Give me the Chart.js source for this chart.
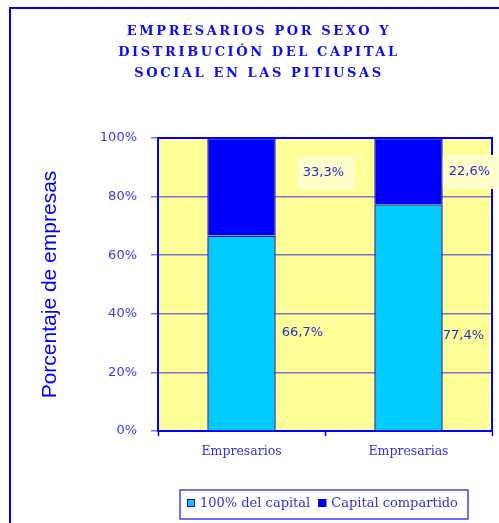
<!DOCTYPE html>
<html>
<head>
<meta charset="utf-8">
<script src="https://cdn.jsdelivr.net/npm/chart.js@4.4.0/dist/chart.umd.min.js"></script>
<style>
  html, body { margin: 0; padding: 0; background: #fff; }
  canvas { display: block; }
</style>
</head>
<body>
<canvas id="chart" width="499" height="523"></canvas>
<script>
/* =======================
   Data
======================= */
const categories = ["Empresarios", "Empresarias"];
const fullCapital = [66.7, 77.4];      // 100% del capital
const sharedCapital = [33.3, 22.6];    // Capital compartido
const seriesNames = ["100% del capital", "Capital compartido"];
const titleLines = ["EMPRESARIOS POR SEXO Y", "DISTRIBUCIÓN DEL CAPITAL", "SOCIAL EN LAS PITIUSAS"];
const yAxisTitle = "Porcentaje de empresas";

const fmt = v => v.toFixed(1).replace(".", ",") + "%";

/* =======================
   Label placement (style only)
   [dataset][bar] -> text offset from bar right edge, anchor value, box
======================= */
const labelStyle = [
  [{ dx: 6, at: 33.7, box: null }, { dx: 0, at: 32.4, box: null }],
  [{ dx: 27, at: 88.1, box: { dx: 22, w: 57 } }, { dx: 6, at: 88.4, box: { dx: 0, w: 56 } }]
];

/* =======================
   Decoration plugin
======================= */
const decor = {
  id: "decor",
  beforeDraw(chart) {
    const { ctx, chartArea: a } = chart;
    ctx.save();
    ctx.fillStyle = "#ffffff";
    ctx.fillRect(0, 0, chart.width, chart.height);
    ctx.fillStyle = "#ffff99";
    ctx.fillRect(a.left, a.top, a.right - a.left, a.bottom - a.top);

    // outer frame (runs off the right and bottom)
    ctx.strokeStyle = "#0000ff";
    ctx.lineWidth = 2;
    ctx.strokeRect(10, 8, 700, 700);

    // title
    ctx.fillStyle = "#0a0aff";
    ctx.font = "bold 13px 'DejaVu Serif'";
    ctx.letterSpacing = "2.6px";
    ctx.textAlign = "center";
    ctx.textBaseline = "middle";
    titleLines.forEach((t, i) => ctx.fillText(t, 259, 32 + i * 21));
    ctx.restore();
  },
  afterDatasetsDraw(chart) {
    const { ctx, chartArea: a } = chart;
    const y = chart.scales.y;
    ctx.save();
    // top and right of the plot frame
    ctx.strokeStyle = "#0000ff";
    ctx.lineWidth = 2;
    ctx.beginPath();
    ctx.moveTo(a.left, a.top);
    ctx.lineTo(a.right, a.top);
    ctx.lineTo(a.right, a.bottom);
    ctx.stroke();

    // value labels
    ctx.font = "13px 'DejaVu Sans'";
    ctx.textBaseline = "middle";
    ctx.textAlign = "left";
    chart.data.datasets.forEach((ds, di) => {
      chart.getDatasetMeta(di).data.forEach((bar, i) => {
        const st = labelStyle[di][i];
        const right = bar.x + bar.width / 2;
        const ly = y.getPixelForValue(st.at);
        if (st.box) {
          ctx.fillStyle = "#ffffcc";
          ctx.fillRect(right + st.box.dx, ly - 17, st.box.w, 34);
        }
        ctx.fillStyle = "#2a2acc";
        ctx.fillText(fmt(ds.data[i]), right + st.dx, ly);
      });
    });
    ctx.restore();
  },
  afterDraw(chart) {
    const { ctx } = chart;
    ctx.save();
    // legend
    ctx.fillStyle = "#ffffff";
    ctx.fillRect(180, 490, 288, 29);
    ctx.strokeStyle = "#4444ee";
    ctx.lineWidth = 1.5;
    ctx.strokeRect(180, 490, 288, 29);
    ctx.font = "13px 'DejaVu Serif'";
    ctx.textBaseline = "middle";
    ctx.textAlign = "left";
    let x = 187;
    chart.data.datasets.forEach(ds => {
      ctx.fillStyle = ds.backgroundColor;
      ctx.fillRect(x, 499, 8, 8);
      ctx.strokeStyle = "#0000cc";
      ctx.lineWidth = 1;
      ctx.strokeRect(x + 0.5, 499.5, 7, 7);
      ctx.fillStyle = "#3333cc";
      ctx.fillText(ds.label, x + 13, 504);
      x += 13 + ctx.measureText(ds.label).width + 8;
    });
    ctx.restore();
  }
};

/* =======================
   Chart
======================= */
const ctx = document.getElementById("chart").getContext("2d");
const chart = new Chart(ctx, {
  type: "bar",
  data: {
    labels: categories,
    datasets: [
      {
        label: seriesNames[0],
        data: fullCapital,
        backgroundColor: "#00ccff",
        borderColor: "#2020b0",
        borderWidth: 1.5,
        borderSkipped: "start"
      },
      {
        label: seriesNames[1],
        data: sharedCapital,
        backgroundColor: "#0000ff",
        borderColor: "#1a1ac0",
        borderWidth: 1.5,
        borderSkipped: "start"
      }
    ]
  },
  options: {
    responsive: false,
    animation: false,
    devicePixelRatio: 1,
    layout: { padding: { left: 38, right: 7, top: 138, bottom: 62 } },
    datasets: { bar: { categoryPercentage: 1, barPercentage: 0.41 } },
    plugins: {
      legend: { display: false },
      title: { display: false },
      tooltip: { enabled: false }
    },
    scales: {
      x: {
        stacked: true,
        afterFit: s => { s.height = 30; },
        grid: {
          offset: true,
          drawOnChartArea: false,
          tickLength: 5,
          tickColor: "#0000ff",
          tickWidth: 1.5
        },
        border: { color: "#0000ff", width: 2 },
        ticks: {
          padding: 8,
          color: "#3333dd",
          font: { family: "'DejaVu Serif'", size: 12.5 }
        }
      },
      y: {
        stacked: true,
        min: 0,
        max: 100,
        afterFit: s => { s.width = 120; },
        grid: {
          color: "#7777cc",
          lineWidth: 1.5,
          tickLength: 7,
          tickColor: "#7777cc"
        },
        border: { color: "#0000ff", width: 2 },
        ticks: {
          stepSize: 20,
          padding: 14,
          color: "#3a3aee",
          font: { family: "'DejaVu Sans'", size: 13 },
          callback: v => v + "%"
        },
        title: {
          display: true,
          text: yAxisTitle,
          color: "#0000ff",
          padding: 0,
          font: { family: "'Liberation Sans'", size: 21 }
        }
      }
    }
  },
  plugins: [decor]
});
</script>
</body>
</html>
